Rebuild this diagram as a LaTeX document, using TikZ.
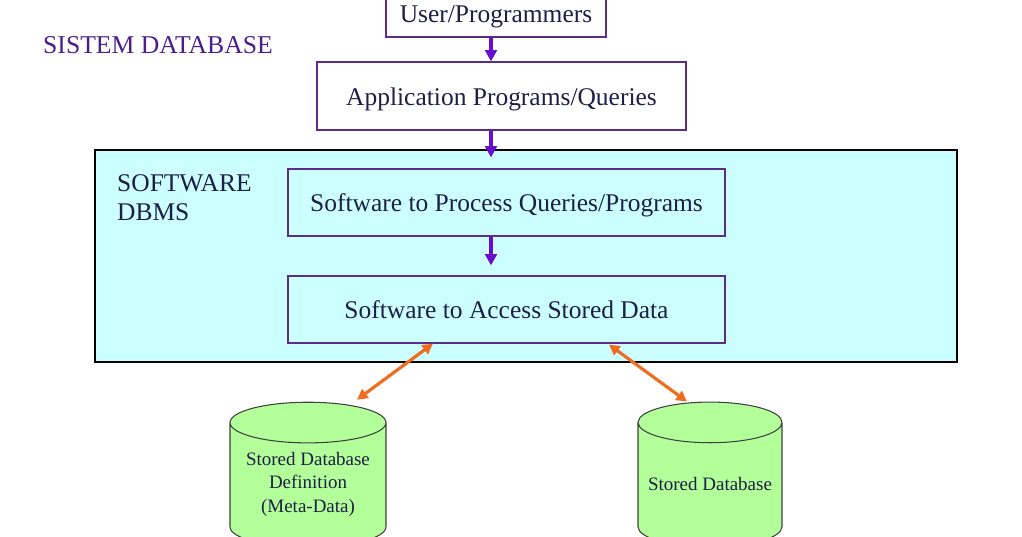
\documentclass[tikz,border=0pt]{standalone}
\usepackage{fontspec}
\setmainfont{Liberation Serif}
\usetikzlibrary{positioning,shapes.geometric,arrows.meta,calc}
\definecolor{boxline}{HTML}{5B2C8C}
\definecolor{flowpurple}{HTML}{6A0DCF}
\definecolor{linkorange}{HTML}{F06C1E}
\definecolor{dbmsfill}{HTML}{CCFFFF}
\definecolor{diskfill}{HTML}{B3FF99}
\definecolor{inktext}{HTML}{1E1E46}
\definecolor{titlepurple}{HTML}{4B1E8C}
\tikzset{
  layerbox/.style={rectangle, draw=boxline, line width=0.7pt, text=inktext, text height=1.07em, text depth=0pt, font=\fontsize{14.5}{17}\selectfont},
  diskstore/.style={cylinder, shape border rotate=90, aspect=0.3, draw=black!75, line width=0.6pt, fill=diskfill, text=inktext, align=center, font=\fontsize{10.8}{13.3}\selectfont},
  flow/.style={draw=flowpurple, line width=2pt, -{Triangle[length=6.4pt,width=6.6pt]}},
  link/.style={draw=linkorange, line width=1.8pt, {Triangle[length=6pt,width=6.2pt]}-{Triangle[length=6pt,width=6.2pt]}}
}
\begin{document}
\begin{tikzpicture}[x=0.02cm,y=-0.02cm]
\useasboundingbox (0,0) rectangle (1022,537);
\clip (0,0) rectangle (1022,537);
\fill[white] (0,0) rectangle (1022,537);

\node (title) [text=titlepurple, font=\fontsize{14.6}{17}\selectfont, anchor=west] at (37,45) {SISTEM DATABASE};

\node (user) [layerbox, minimum width=4.4cm, minimum height=0.94cm] at (496,13.5) {User/Programmers};
\node (app) [layerbox, minimum width=7.38cm, minimum height=1.36cm] at (501.5,96) {Application Programs/Queries};

\node (dbms) [rectangle, draw=black, line width=0.7pt, fill=dbmsfill, minimum width=17.24cm, minimum height=4.24cm] at (526,256) {};
\node (dbmslabel) [text=inktext, font=\fontsize{14.5}{17}\selectfont, align=left, anchor=north west] at (111,168) {SOFTWARE\\DBMS};

\node (proc) [layerbox, fill=dbmsfill, minimum width=8.74cm, minimum height=1.34cm] at (506.5,202.5) {Software to Process Queries/Programs};
\node (access) [layerbox, fill=dbmsfill, minimum width=8.74cm, minimum height=1.34cm] at (506.5,309.5) {Software to Access Stored Data};

\node (meta) [diskstore, text depth=7.5pt, minimum width=3.12cm, minimum height=2.9cm] at (308,489) {Stored Database\\Definition\\(Meta-Data)};
\node (stored) [diskstore, text depth=5.5pt, minimum width=2.88cm, minimum height=2.9cm] at (710,489) {Stored Database};

\draw[flow] ($(user.south)+(-5,0)$) -- ($(app.north)+(-10.5,0)$);
\draw[flow] ($(app.south)+(-10.5,0)$) -- ($(app.south |- dbms.north)+(-10.5,8)$);
\draw[flow] ($(proc.south)+(-15.5,0)$) -- ($(access.north)+(-15.5,-10)$);

\draw[link] ($(access.south)+(-73.5,0)$) -- ($(meta.north)+(49,-2)$);
\draw[link] ($(access.south)+(102.5,1)$) -- ($(stored.north)+(-23,0)$);

\end{tikzpicture}
\end{document}
